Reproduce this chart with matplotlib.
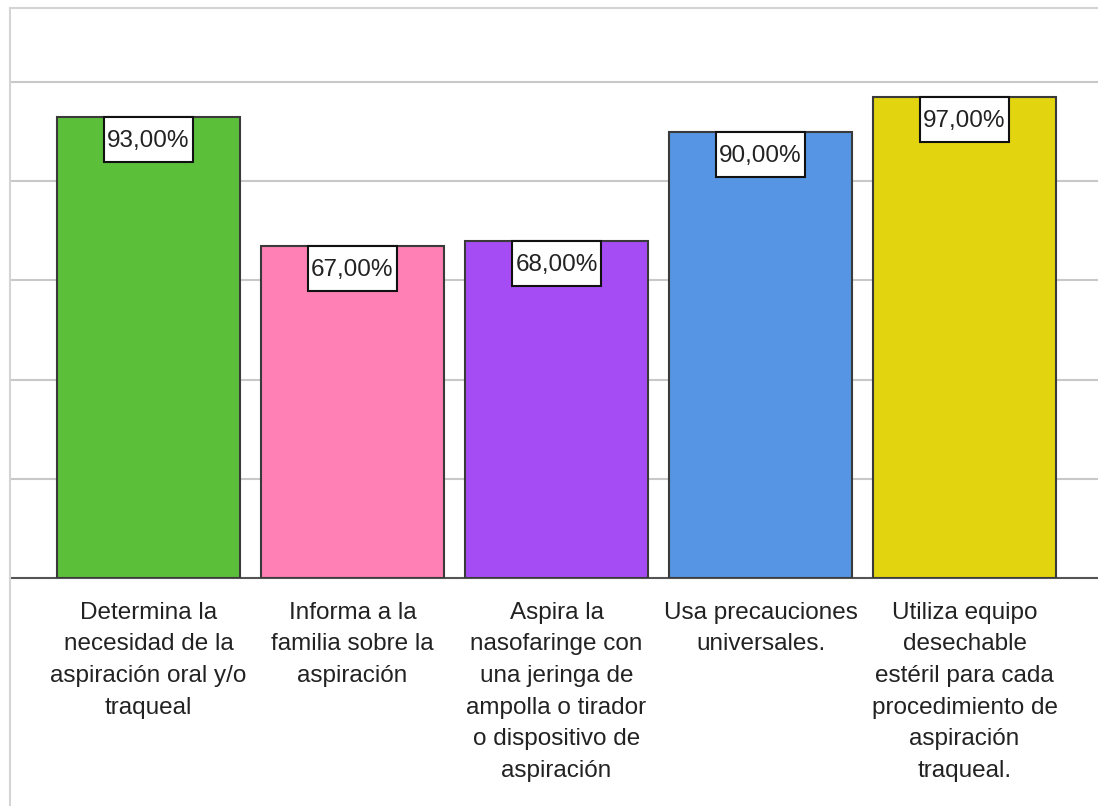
import matplotlib
matplotlib.use("Agg")
import matplotlib.pyplot as plt
from matplotlib.lines import Line2D
from matplotlib.path import Path

categories = [
    "Determina la\nnecesidad de la\naspiración oral y/o\ntraqueal",
    "Informa a la\nfamilia sobre la\naspiración",
    "Aspira la\nnasofaringe con\nuna jeringa de\nampolla o tirador\no dispositivo de\naspiración",
    "Usa precauciones\nuniversales.",
    "Utiliza equipo\ndesechable\nestéril para cada\nprocedimiento de\naspiración\ntraqueal.",
]
values = [93.0, 67.0, 68.0, 90.0, 97.0]
value_labels = ["93,00%", "67,00%", "68,00%", "90,00%", "97,00%"]
colors = ["#5cbf3a", "#ff80b4", "#a64cf4", "#5595e3", "#e2d40f"]

plt.rcParams['font.family'] = ['Liberation Sans', 'DejaVu Sans']

FS = 17.5
PADX, PADY_TOP, PADY_BOT = 0.12, 0.56, 0.40  # fractions of font size


def asym_box(x0, y0, width, height, mutation_scale, mutation_aspect=1):
    px = PADX * mutation_scale
    xa, xb = x0 - px, x0 + width + px
    ya, yb = y0 - PADY_BOT * mutation_scale, y0 + height + PADY_TOP * mutation_scale
    return Path([(xa, ya), (xb, ya), (xb, yb), (xa, yb), (xa, ya)],
                [Path.MOVETO, Path.LINETO, Path.LINETO, Path.LINETO, Path.CLOSEPOLY])


W, H = 1098, 806
fig = plt.figure(figsize=(W / 100, H / 100), dpi=100)
ax = fig.add_axes([10 / W, 1 - 578 / H, (W - 10) / W, (578 - 8) / H])

x = list(range(len(values)))
ax.bar(x, values, width=0.897, color=colors, edgecolor="#3a3a3a", linewidth=1.5, zorder=3)

ax.set_xlim(-138.5 / 204, (W - 10 - 138.5) / 204)
ax.set_ylim(0, 114.9)
ax.set_yticks([20, 40, 60, 80, 100])
ax.yaxis.grid(True, color="#c8c8c8", linewidth=1.5, zorder=0)
ax.tick_params(axis="y", left=False, labelleft=False)
ax.set_xticks(x)
ax.tick_params(axis="x", length=0, pad=17)
ax.set_xticklabels(categories, fontsize=FS, color="#222222")
for t in ax.get_xticklabels():
    t.set_linespacing(1.57)

ax.spines["right"].set_visible(False)
ax.spines["top"].set_color("#d4d4d4")
ax.spines["top"].set_linewidth(1.5)
ax.spines["left"].set_visible(False)
ax.spines["bottom"].set_color("#555555")
ax.spines["bottom"].set_linewidth(1.5)

pad_top_pt = PADY_TOP * FS
for xi, v, lab in zip(x, values, value_labels):
    ax.annotate(lab, xy=(xi, v), xytext=(0, -pad_top_pt), textcoords="offset points",
                ha="center", va="top", fontsize=FS, color="#222222", zorder=5,
                bbox=dict(boxstyle=asym_box, facecolor="white",
                          edgecolor="#111111", linewidth=1.5))

fig.add_artist(Line2D([10 / W, 10 / W], [0, 1 - 8 / H], transform=fig.transFigure,
                      color="#d4d4d4", linewidth=1.5))

fig.savefig("out.png", dpi=100, facecolor="white")
